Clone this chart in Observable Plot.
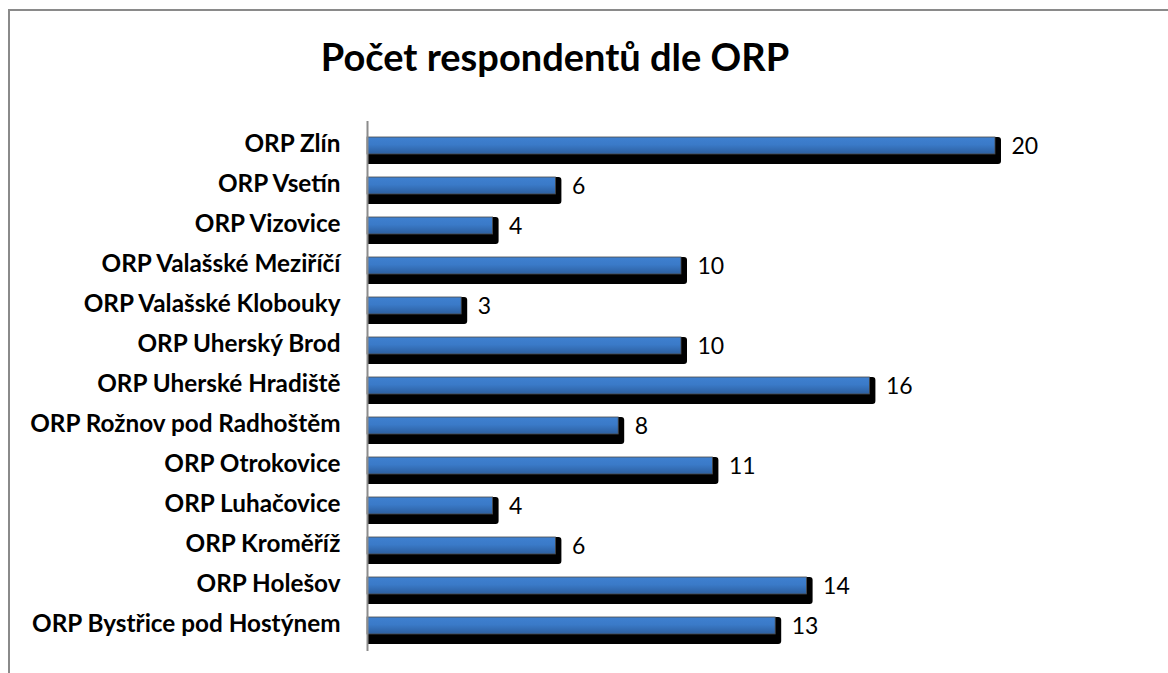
<!DOCTYPE html>
<html>
<head>
<meta charset="utf-8">
<script src="https://cdn.jsdelivr.net/npm/d3@7"></script>
<script src="https://cdn.jsdelivr.net/npm/@observablehq/plot@0.6"></script>
<style>
  html, body { margin: 0; padding: 0; background: #fff; width: 1168px; height: 673px; overflow: hidden; }
  #frame { position: absolute; left: 8px; top: 9px; width: 1200px; height: 700px;
           border-left: 2px solid #8a8a8a; border-top: 2px solid #8a8a8a; box-sizing: border-box; }
  #title { position: absolute; left: 0; top: 31px; width: 1110px; text-align: center;
           font-family: Lato, "Open Sans", sans-serif; font-weight: 700; font-size: 38px; line-height: 50px; color: #000; }
  #chart { position: absolute; left: 0; top: 100px; }
</style>
</head>
<body>
<div id="frame"></div>
<div id="title">Počet respondentů dle ORP</div>
<div id="chart"></div>
<script>
const categories = [
  "ORP Zlín",
  "ORP Vsetín",
  "ORP Vizovice",
  "ORP Valašské Meziříčí",
  "ORP Valašské Klobouky",
  "ORP Uherský Brod",
  "ORP Uherské Hradiště",
  "ORP Rožnov pod Radhoštěm",
  "ORP Otrokovice",
  "ORP Luhačovice",
  "ORP Kroměříž",
  "ORP Holešov",
  "ORP Bystřice pod Hostýnem"
];
const values = [20, 6, 4, 10, 3, 10, 16, 8, 11, 4, 6, 14, 13];
const data = categories.map((c, i) => ({ORP: c, n: values[i]}));

const chart = Plot.plot({
  width: 1168,
  height: 573,
  marginTop: 21,
  marginBottom: 22,
  marginLeft: 367,
  marginRight: 16,
  style: { fontFamily: "Lato, 'Open Sans', sans-serif", background: "transparent", overflow: "visible" },
  x: { domain: [0, 25], axis: null },
  y: { domain: categories, padding: 0, axis: null },
  marks: [
    () => {
      const ns = "http://www.w3.org/2000/svg";
      const defs = document.createElementNS(ns, "defs");
      defs.innerHTML = `<linearGradient id="barGrad" x1="0" y1="0" x2="0" y2="1">
        <stop offset="0%" stop-color="#3f80d0"/>
        <stop offset="45%" stop-color="#3a7ac8"/>
        <stop offset="100%" stop-color="#2d5f9f"/>
      </linearGradient>`;
      return defs;
    },
    // shadow (extruded depth)
    Plot.barX(data, { x: "n", y: "ORP", fill: "#000", insetTop: 11, insetBottom: 2 }),
    Plot.barX(data, { x: "n", y: "ORP", fill: "#000", insetTop: 11, insetBottom: 2, dx: 6, rx: 3 }),
    // face
    Plot.barX(data, { x: "n", y: "ORP", fill: "url(#barGrad)", stroke: "#4a4a4a", strokeWidth: 0.8, insetTop: 11, insetBottom: 12 }),
    Plot.ruleX([0], { stroke: "#8c8c8c", strokeWidth: 2 }),
    Plot.axisY({ tickSize: 0, tickPadding: 27, fontSize: 24.3, fontWeight: "bold", fill: "#000", label: null, dy: -2 }),
    Plot.text(data, { x: "n", y: "ORP", text: d => String(d.n), textAnchor: "start", dx: 16, dy: 0, fontSize: 23, fill: "#000" })
  ]
});
document.getElementById("chart").appendChild(chart);
</script>
</body>
</html>
